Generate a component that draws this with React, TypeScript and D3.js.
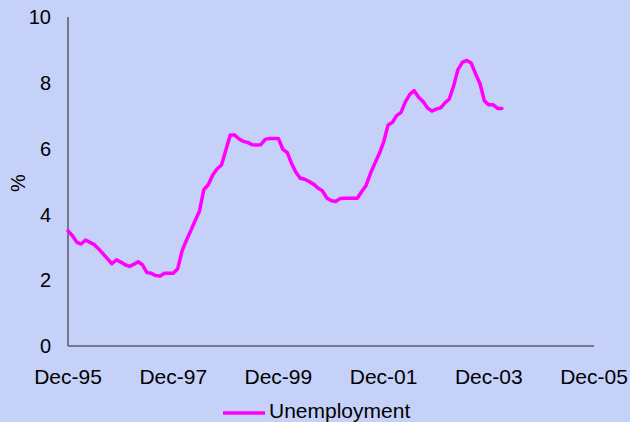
import React, { useEffect, useRef } from 'react'
import { select, scaleTime, scaleLinear, line, timeMonth } from 'd3'

// monthly unemployment (%), starting Dec-95
const startMonth = new Date(1995, 11, 1)
const unemployment = [
  3.5, 3.35, 3.15, 3.1, 3.22, 3.15, 3.08, 2.95, 2.8, 2.65,
  2.5, 2.62, 2.55, 2.47, 2.42, 2.48, 2.56, 2.47, 2.23, 2.21,
  2.14, 2.13, 2.21, 2.21, 2.21, 2.35, 2.9, 3.2, 3.5, 3.8,
  4.1, 4.75, 4.9, 5.2, 5.38, 5.5, 5.95, 6.41, 6.41, 6.3,
  6.22, 6.19, 6.12, 6.11, 6.12, 6.28, 6.31, 6.31, 6.31, 5.98,
  5.88, 5.55, 5.28, 5.1, 5.07, 5.0, 4.92, 4.8, 4.72, 4.5,
  4.42, 4.39, 4.48, 4.49, 4.49, 4.49, 4.49, 4.69, 4.88, 5.25,
  5.55, 5.85, 6.2, 6.72, 6.8, 7.0, 7.1, 7.42, 7.65, 7.76,
  7.56, 7.43, 7.24, 7.14, 7.2, 7.24, 7.4, 7.5, 7.9, 8.4,
  8.62, 8.68, 8.6, 8.27, 7.98, 7.45, 7.33, 7.33, 7.22, 7.22
]

const yTicks = [0, 2, 4, 6, 8, 10]
const xTickYears = [1995, 1997, 1999, 2001, 2003, 2005]
const xTickLabels = ['Dec-95', 'Dec-97', 'Dec-99', 'Dec-01', 'Dec-03', 'Dec-05']
const seriesName = 'Unemployment'

const W = 630
const H = 422
const margin = { left: 68, right: 36, top: 17, bottom: 76 }

const App = () => {
  const svgRef = useRef<SVGSVGElement>(null)

  useEffect(() => {
    const svg = select(svgRef.current)
    svg.selectAll('*').remove()

    const points = unemployment.map((v, i) => ({ date: timeMonth.offset(startMonth, i), value: v }))

    const xScale = scaleTime()
      .domain([startMonth, new Date(2005, 11, 1)])
      .range([margin.left, W - margin.right])
    const yScale = scaleLinear()
      .domain([0, 10])
      .range([H - margin.bottom, margin.top])

    svg.append('rect')
      .attr('width', W)
      .attr('height', H)
      .attr('fill', '#c5d1f9')

    // axes: plain lines, no tick marks
    svg.append('line')
      .attr('x1', xScale.range()[0]).attr('x2', xScale.range()[0])
      .attr('y1', yScale(0)).attr('y2', yScale(10))
      .attr('stroke', '#5a5a66').attr('stroke-width', 1.5)
    svg.append('line')
      .attr('x1', xScale.range()[0]).attr('x2', xScale.range()[1])
      .attr('y1', yScale(0)).attr('y2', yScale(0))
      .attr('stroke', '#5a5a66').attr('stroke-width', 1.5)

    svg.selectAll('.y-label')
      .data(yTicks)
      .join('text')
      .attr('class', 'y-label')
      .attr('x', 51)
      .attr('y', d => yScale(d))
      .attr('dy', '0.36em')
      .attr('text-anchor', 'end')
      .attr('font-size', 20)
      .text(d => d)

    svg.selectAll('.x-label')
      .data(xTickYears)
      .join('text')
      .attr('class', 'x-label')
      .attr('x', d => xScale(new Date(d, 11, 1)))
      .attr('y', 384)
      .attr('text-anchor', 'middle')
      .attr('font-size', 21)
      .text((d, i) => xTickLabels[i])

    svg.append('text')
      .attr('transform', 'translate(25,183) rotate(-90)')
      .attr('text-anchor', 'middle')
      .attr('font-size', 20)
      .text('%')

    const unemploymentLine = line<{ date: Date, value: number }>()
      .x(d => xScale(d.date))
      .y(d => yScale(d.value))
    svg.append('path')
      .datum(points)
      .attr('d', unemploymentLine)
      .attr('fill', 'none')
      .attr('stroke', '#ff00ff')
      .attr('stroke-width', 3.5)
      .attr('stroke-linejoin', 'round')
      .attr('stroke-linecap', 'round')

    // legend
    svg.append('line')
      .attr('x1', 223).attr('x2', 265)
      .attr('y1', 413).attr('y2', 413)
      .attr('stroke', '#ff00ff').attr('stroke-width', 3.5)
    svg.append('text')
      .attr('x', 269)
      .attr('y', 418)
      .attr('font-size', 21)
      .text(seriesName)
  }, [])

  return (
    <svg
      ref={svgRef}
      width={W}
      height={H}
      style={{ position: 'absolute', left: 0, top: 0, fontFamily: '"Liberation Sans", Arial, sans-serif' }}
    />
  )
}

export default App
